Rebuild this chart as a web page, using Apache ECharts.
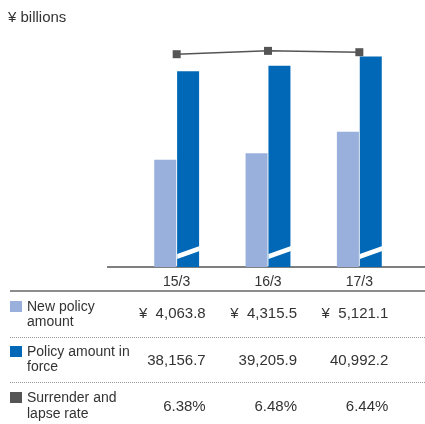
<!DOCTYPE html>
<html><head><meta charset="utf-8">
<script src="https://cdn.jsdelivr.net/npm/echarts@6/dist/echarts.min.js"></script>
<style>html,body{margin:0;padding:0;background:#fff}#c{width:425px;height:424px}</style>
</head><body><div id="c"></div>
<script>
const categories = ['15/3', '16/3', '17/3'];
const newPolicy = [4063.8, 4315.5, 5121.1];
const inForce = [38156.7, 39205.9, 40992.2];
const lapseRate = [6.38, 6.48, 6.44];
const rowLabels = [['New policy', 'amount'], ['Policy amount in', 'force'], ['Surrender and', 'lapse rate']];
const unitLabel = '¥ billions';

const FONT = '"Liberation Sans", Arial, Helvetica, sans-serif';
const TXT = '#333';
const C_LIGHT = '#98b0db';
const C_DARK = '#0068b6';
const C_LINE = '#555555';

const gridLeft = 131, gridWidth = 274, gridTop = 40, gridBottomY = 267;
const gridHeight = gridBottomY - gridTop;
const catW = gridWidth / categories.length;

function fmt1(v){ return v.toLocaleString('en-US',{minimumFractionDigits:1,maximumFractionDigits:1}); }
function fmt2(v){ return v.toFixed(2) + '%'; }

const rowsY = [
  {sq: 301, l1: 307, l2: 322, val: 314},
  {sq: 346, l1: 352, l2: 367, val: 361},
  {sq: 392, l1: 398, l2: 414, val: 407}
];
const rowColors = [C_LIGHT, C_DARK, C_LINE];
const rowValues = [
  newPolicy.map(v => '¥  ' + fmt1(v)),
  inForce.map(fmt1),
  lapseRate.map(fmt2)
];

const graphics = [];
graphics.push({type:'text', left: 8, top: 10, style:{text: unitLabel, font: '15px ' + FONT, fill: TXT}});
graphics.push({type:'line', shape:{x1:107, y1:gridBottomY, x2:425, y2:gridBottomY}, style:{stroke:'#555', lineWidth:1.5}});
graphics.push({type:'line', shape:{x1:10, y1:291, x2:425, y2:291}, style:{stroke:'#666', lineWidth:1.5}});
[337, 382].forEach(y => graphics.push({type:'line', shape:{x1:10, y1:y+0.5, x2:425, y2:y+0.5}, style:{stroke:'#999', lineWidth:1, lineDash:[1,1]}}));
rowsY.forEach((r, i) => {
  graphics.push({type:'rect', shape:{x:10, y:r.sq, width:12, height:11}, style:{fill: rowColors[i]}});
  graphics.push({type:'text', x:27, y:r.l1, style:{text: rowLabels[i][0], font:'14px ' + FONT, fill: TXT, textVerticalAlign:'middle'}});
  graphics.push({type:'text', x:27, y:r.l2, style:{text: rowLabels[i][1], font:'14px ' + FONT, fill: TXT, textVerticalAlign:'middle'}});
  rowValues[i].forEach((t, j) => {
    const xr = gridLeft + catW * (j + 0.5) + 29;
    graphics.push({type:'text', x: xr, y: r.val, style:{text: t, font:'15px ' + FONT, fill: TXT, textAlign:'right', textVerticalAlign:'middle'}});
  });
});

const chart = echarts.init(document.getElementById('c'), null, {renderer:'canvas'});
chart.setOption({
  animation: false,
  backgroundColor: '#fff',
  grid: {left: gridLeft, width: gridWidth, top: gridTop, height: gridHeight},
  xAxis: {
    type: 'category', data: categories,
    axisLine: {show: false}, axisTick: {show: false},
    axisLabel: {fontSize: 14, fontFamily: FONT, color: TXT, margin: 8}
  },
  yAxis: [
    {type:'value', min:0, max: 8603, show:false},
    {type:'value', min:0, max: 44220, show:false},
    {type:'value', min:0, max: 6.806, show:false}
  ],
  series: [
    {type:'bar', name:'New policy amount', data:newPolicy, yAxisIndex:0, barWidth:22, barGap:'4%', itemStyle:{color:C_LIGHT}},
    {type:'bar', name:'Policy amount in force', data:inForce, yAxisIndex:1, barWidth:22, barGap:'4%', itemStyle:{color:C_DARK}},
    {type:'custom', name:'break', yAxisIndex:1, data: categories.map((c,i)=>[i,0]),
      encode:{x:0, y:1}, z: 5,
      renderItem: function(params, api){
        const p = api.coord([api.value(0), 0]);
        const x0 = p[0] + 0.5, x1 = p[0] + 23, by = p[1];
        return {type:'polygon', shape:{points:[[x0, by-8],[x1, by-16],[x1, by-21],[x0, by-13]]}, style:{fill:'#fff'}};
      }
    },
    {type:'line', name:'Surrender and lapse rate', data:lapseRate, yAxisIndex:2, symbol:'rect', symbolSize:8,
      itemStyle:{color:C_LINE}, lineStyle:{color:C_LINE, width:1.5}, z:10}
  ],
  graphic: graphics
});
</script></body></html>
